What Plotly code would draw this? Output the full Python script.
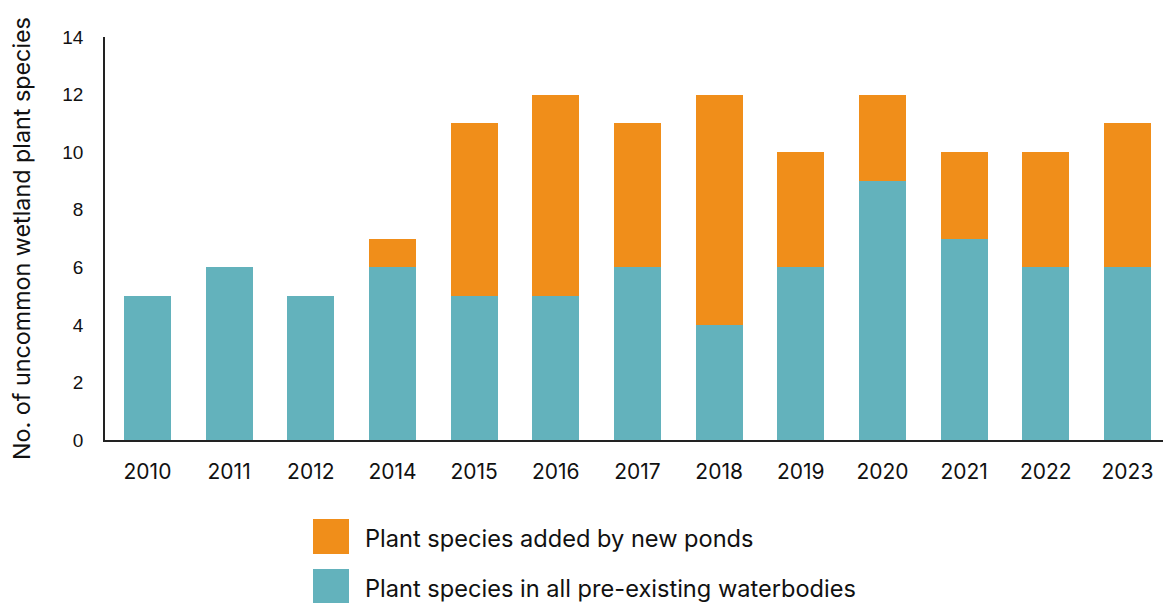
import plotly.graph_objects as go

# Survey years and species counts
years = ["2010", "2011", "2012", "2014", "2015", "2016", "2017",
         "2018", "2019", "2020", "2021", "2022", "2023"]
pre_existing = [5, 6, 5, 6, 5, 5, 6, 4, 6, 9, 7, 6, 6]
new_ponds = [0, 0, 0, 1, 6, 7, 5, 8, 4, 3, 3, 4, 5]

series_names = ["Plant species added by new ponds",
                "Plant species in all pre-existing waterbodies"]
y_title = "No. of uncommon wetland plant species"
y_ticks = [0, 2, 4, 6, 8, 10, 12, 14]

TEAL = "#63B2BC"
ORANGE = "#F08E1A"
W, H = 1163, 603
L, R, T, B = 105, 0, 37, 163
PW, PH = W - L - R, H - T - B

fig = go.Figure()
fig.add_trace(go.Bar(x=years, y=pre_existing, name=series_names[1],
                     marker=dict(color=TEAL, line=dict(width=0)), width=0.575))
fig.add_trace(go.Bar(x=years, y=new_ponds, name=series_names[0],
                     marker=dict(color=ORANGE, line=dict(width=0)), width=0.575))


def px_x(p):
    return (p - L) / PW


def px_y(p):
    return (H - B - p) / PH


# Legend drawn as large square swatches with labels
shapes = []
annotations = []
for i, (name, color) in enumerate(zip(series_names, [ORANGE, TEAL])):
    top = 519 + i * 50
    shapes.append(dict(type="rect", xref="paper", yref="paper",
                       x0=px_x(313), x1=px_x(349), y0=px_y(top + 35), y1=px_y(top),
                       fillcolor=color, line=dict(width=0)))
    annotations.append(dict(xref="paper", yref="paper", x=px_x(363), y=px_y(top + 19),
                            xanchor="left", yanchor="middle", showarrow=False,
                            text=name, font=dict(family="Inter", size=23.6, color="#111111")))

annotations.append(dict(xref="paper", yref="paper", x=px_x(21), y=px_y(239),
                        xanchor="center", yanchor="middle", textangle=-90, showarrow=False,
                        text=y_title, font=dict(family="Inter", size=23.3, color="#111111")))

fig.update_layout(
    barmode="stack",
    width=W, height=H,
    margin=dict(l=L, r=R, t=T, b=B),
    paper_bgcolor="white", plot_bgcolor="white",
    showlegend=False,
    shapes=shapes,
    annotations=annotations,
    xaxis=dict(range=[-0.52, 12.435], showline=True, linecolor="#222222", linewidth=2,
               ticks="", tickfont=dict(family="Inter", size=21, color="#111111"),
               ticklabelstandoff=12, showgrid=False),
    yaxis=dict(range=[0, 14], tickvals=y_ticks, showline=True, linecolor="#222222",
               linewidth=1.5, ticks="", showgrid=False, zeroline=False,
               tickfont=dict(family="Liberation Sans", size=19, color="#111111"),
               ticklabelstandoff=16),
)

fig.write_html("out.html")
